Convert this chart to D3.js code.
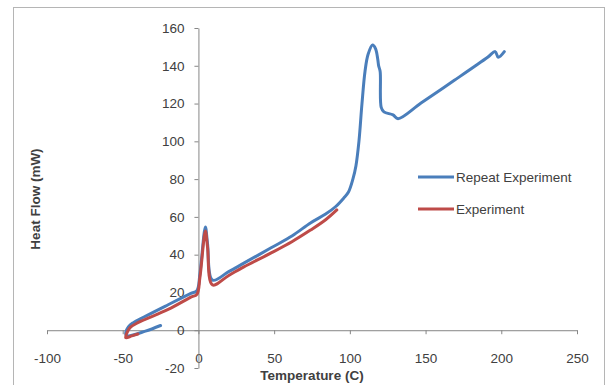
<!DOCTYPE html>
<html>
<head>
<meta charset="utf-8">
<script src="https://cdn.jsdelivr.net/npm/d3@7"></script>
<style>
  body { margin: 0; background: #fff; }
  text { font-family: "Liberation Sans", Arial, sans-serif; }
</style>
</head>
<body>
<div id="chart"></div>
<script>
// Repeat Experiment (blue) - temperature (C), heat flow (mW)
var repeatT = [-25, -35, -47, -48, -46, -43, -36, -20, -5, -1, 1, 4.6, 6, 9.3, 20, 30, 47.7, 62, 74, 84, 90.7, 96, 99, 102, 104, 106, 108, 110, 112, 115, 117, 118.5, 119, 120, 120.7, 122.5, 128.5, 131.8, 147, 169, 191, 196, 198, 202];
var repeatV = [2.5, -0.5, -3, -2, 2, 4, 7, 13.5, 19.5, 21, 30, 54.6, 46, 26.5, 31, 35.5, 43.5, 50, 56.8, 61.5, 65.5, 70, 73, 80, 87, 100, 120, 137, 146, 151, 149, 143, 140, 137, 118, 115.6, 114, 112, 120.3, 132.3, 144.5, 147.5, 144.5, 147.5];

// Experiment (red)
var expT = [-40, -44, -48, -47, -45, -40, -20, -5, -1, 1, 4.6, 6, 9.3, 20, 30, 47.7, 62, 74, 84, 91.4];
var expV = [-2, -3, -4, -1, 1.5, 4, 11, 17.5, 19, 28, 52.5, 44, 24, 29, 33.5, 40.8, 47, 53, 58.5, 63.7];

var xTicks = [-100, -50, 0, 50, 100, 150, 200, 250];
var yTicks = [-20, 0, 20, 40, 60, 80, 100, 120, 140, 160];

var series = [
  {name: "Repeat Experiment", color: "#4a7ebb", pts: repeatT.map(function(t, i){ return {t: t, v: repeatV[i]}; })},
  {name: "Experiment", color: "#be4b48", pts: expT.map(function(t, i){ return {t: t, v: expV[i]}; })}
];

var svg = d3.select("#chart").append("svg")
  .attr("width", 606)
  .attr("height", 385);

// outer chart frame
svg.append("rect")
  .attr("x", 13.5).attr("y", 7.5)
  .attr("width", 591).attr("height", 400)
  .attr("fill", "none")
  .attr("stroke", "#b5b5b5");

var x = d3.scaleLinear().domain([-100, 250]).range([47, 577]);
var y = d3.scaleLinear().domain([-20, 160]).range([368, 28]);

var axisColor = "#868686";
var textColor = "#404040";
var plain = function(d){ return String(d); };

// x axis at y = 0
var gx = svg.append("g")
  .attr("transform", "translate(0," + y(0) + ")")
  .call(d3.axisBottom(x).tickValues(xTicks).tickFormat(plain).tickSize(4).tickSizeOuter(0).tickPadding(19));
gx.select(".domain").attr("stroke", axisColor);
gx.selectAll(".tick line").attr("stroke", axisColor);
gx.selectAll(".tick text").attr("fill", textColor).attr("font-size", "13.5px")
  .attr("font-family", "Liberation Sans, Arial, sans-serif");

// y axis at x = 0
var gy = svg.append("g")
  .attr("transform", "translate(" + x(0) + ",0)")
  .call(d3.axisLeft(y).tickValues(yTicks).tickFormat(plain).tickSize(4).tickSizeOuter(0).tickPadding(10));
gy.select(".domain").attr("stroke", axisColor);
gy.selectAll(".tick line").attr("stroke", axisColor);
gy.selectAll(".tick text").attr("fill", textColor).attr("font-size", "13.5px")
  .attr("font-family", "Liberation Sans, Arial, sans-serif");

// lines
var line = d3.line()
  .x(function(d){ return x(d.t); })
  .y(function(d){ return y(d.v); })
  .curve(d3.curveCatmullRom.alpha(0.5));

series.forEach(function(s){
  svg.append("path")
    .datum(s.pts)
    .attr("fill", "none")
    .attr("stroke", s.color)
    .attr("stroke-width", 3)
    .attr("stroke-linejoin", "round")
    .attr("stroke-linecap", "round")
    .attr("d", line);
});

// axis titles
svg.append("text")
  .attr("x", 312).attr("y", 380)
  .attr("text-anchor", "middle")
  .attr("font-size", "13.5px")
  .attr("font-weight", "bold")
  .attr("fill", textColor)
  .text("Temperature (C)");

svg.append("text")
  .attr("transform", "translate(40,199) rotate(-90)")
  .attr("text-anchor", "middle")
  .attr("font-size", "13.5px")
  .attr("font-weight", "bold")
  .attr("fill", textColor)
  .text("Heat Flow (mW)");

// legend
var legend = svg.append("g");
series.forEach(function(s, i){
  var ly = 177 + i * 32;
  legend.append("line")
    .attr("x1", 418).attr("x2", 454)
    .attr("y1", ly).attr("y2", ly)
    .attr("stroke", s.color)
    .attr("stroke-width", 3);
  legend.append("text")
    .attr("x", 456).attr("y", ly)
    .attr("dy", "0.35em")
    .attr("font-size", "13.5px")
    .attr("fill", textColor)
    .text(s.name);
});
</script>
</body>
</html>
